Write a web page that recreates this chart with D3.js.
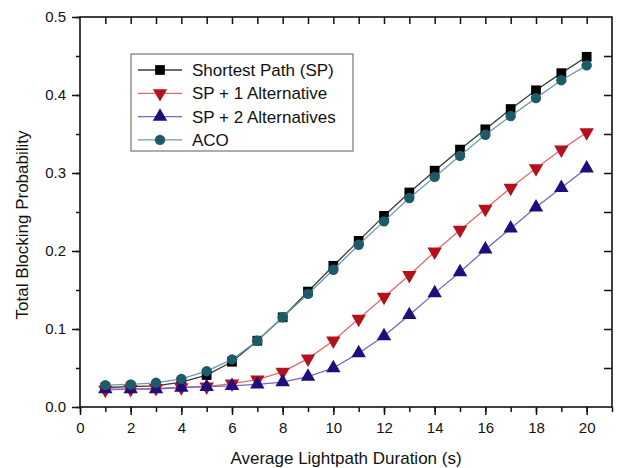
<!DOCTYPE html>
<html>
<head>
<meta charset="utf-8">
<script src="https://cdn.jsdelivr.net/npm/d3@7/dist/d3.min.js"></script>
<style>
html,body{margin:0;padding:0;background:#fff;}
svg{display:block;font-family:"Liberation Sans",Arial,sans-serif;}
</style>
</head>
<body>
<svg id="chart" width="621" height="468"></svg>
<script>
const durations = [1,2,3,4,5,6,7,8,9,10,11,12,13,14,15,16,17,18,19,20];
const seriesNames = ["Shortest Path (SP)","SP + 1 Alternative","SP + 2 Alternatives","ACO"];
const spValues  = [0.025,0.026,0.027,0.032,0.041,0.058,0.085,0.115,0.148,0.181,0.213,0.245,0.275,0.303,0.330,0.356,0.382,0.406,0.428,0.449];
const sp1Values = [0.022,0.023,0.024,0.025,0.026,0.030,0.035,0.045,0.062,0.085,0.113,0.141,0.169,0.199,0.227,0.254,0.281,0.306,0.330,0.352];
const sp2Values = [0.023,0.023,0.023,0.025,0.026,0.027,0.029,0.032,0.039,0.050,0.069,0.091,0.118,0.146,0.173,0.202,0.229,0.256,0.281,0.306];
const acoValues = [0.028,0.029,0.031,0.036,0.046,0.061,0.085,0.115,0.145,0.176,0.208,0.238,0.268,0.295,0.322,0.349,0.373,0.396,0.419,0.438];
const xTickLabels = [0,2,4,6,8,10,12,14,16,18,20];
const yTickLabels = [0.0,0.1,0.2,0.3,0.4,0.5];

const styles = [
  {line:"#3a3a3a", fill:"#000000", shape:d3.symbolSquare, size:95, rot:0},
  {line:"#e06a6a", fill:"#b3121c", shape:d3.symbolTriangle, size:90, rot:180},
  {line:"#7466c4", fill:"#1e0f7c", shape:d3.symbolTriangle, size:90, rot:0},
  {line:"#6a9ea6", fill:"#1e5b6a", shape:d3.symbolCircle, size:85, rot:0}
];
const allValues = [spValues, sp1Values, sp2Values, acoValues];

const svg = d3.select("#chart");
const L = 80, R = 612, T = 17, B = 407;
const x = d3.scaleLinear().domain([0,21]).range([L,R]);
const y = d3.scaleLinear().domain([0,0.5]).range([B,T]);

// Bottom axis: minor ticks every 1, major every 2
const gx = svg.append("g").attr("transform",`translate(0,${B})`);
gx.call(d3.axisBottom(x).tickValues(d3.range(0,22,1)).tickSize(5).tickFormat(""))
  .call(g=>g.select(".domain").remove());
gx.append("g").call(d3.axisBottom(x).tickValues(xTickLabels).tickSize(8).tickPadding(7).tickFormat(d3.format("d")))
  .call(g=>g.select(".domain").remove())
  .call(g=>g.selectAll("text").attr("font-size",15).attr("fill","#111").attr("font-family","Liberation Sans, Arial, sans-serif"));
// Left axis
const gy = svg.append("g").attr("transform",`translate(${L},0)`);
gy.call(d3.axisLeft(y).tickValues(d3.range(0,0.501,0.05)).tickSize(4).tickFormat(""))
  .call(g=>g.select(".domain").remove());
gy.append("g").call(d3.axisLeft(y).tickValues(yTickLabels).tickSize(8).tickPadding(6).tickFormat(d3.format(".1f")))
  .call(g=>g.select(".domain").remove())
  .call(g=>g.selectAll("text").attr("font-size",15).attr("fill","#111").attr("font-family","Liberation Sans, Arial, sans-serif"));
// Top axis ticks (inward)
svg.append("g").attr("transform",`translate(0,${T})`)
  .call(d3.axisBottom(x).tickValues(d3.range(1,21,1)).tickSize(7).tickFormat(""))
  .call(g=>g.select(".domain").remove());
// Right axis ticks (inward)
svg.append("g").attr("transform",`translate(${R},0)`)
  .call(d3.axisLeft(y).tickValues(d3.range(0.05,0.5,0.05)).tickSize(8).tickFormat(""))
  .call(g=>g.select(".domain").remove());
svg.selectAll(".tick line").attr("stroke","#111").attr("stroke-width",1.5);

// Frame
svg.append("rect").attr("x",L).attr("y",T).attr("width",R-L).attr("height",B-T)
  .attr("fill","none").attr("stroke","#111").attr("stroke-width",1.6);

// Series
const line = d3.line().x((d,i)=>x(durations[i])).y(d=>y(d));
allValues.forEach((vals,k)=>{
  const s = styles[k];
  const g = svg.append("g");
  g.append("path").datum(vals).attr("d",line).attr("fill","none").attr("stroke",s.line).attr("stroke-width",1.3);
  g.selectAll("path.m").data(vals).join("path").attr("class","m")
    .attr("d",d3.symbol().type(s.shape).size(s.size))
    .attr("transform",(d,i)=>`translate(${x(durations[i])},${y(d)}) rotate(${s.rot})`)
    .attr("fill",s.fill);
});

// Axis titles
svg.append("text").attr("x",346).attr("y",464).attr("text-anchor","middle")
  .attr("font-size",17).attr("fill","#111").text("Average Lightpath Duration (s)");
svg.append("text").attr("transform","translate(28,225) rotate(-90)").attr("text-anchor","middle")
  .attr("font-size",17).attr("fill","#111").text("Total Blocking Probability");

// Legend
const lg = svg.append("g");
lg.append("rect").attr("x",131).attr("y",54).attr("width",222).attr("height",97)
  .attr("fill","#fff").attr("stroke","#777").attr("stroke-width",1.2);
seriesNames.forEach((name,k)=>{
  const s = styles[k];
  const cy = 70 + k*23.3;
  lg.append("line").attr("x1",138).attr("x2",182).attr("y1",cy).attr("y2",cy).attr("stroke",s.line).attr("stroke-width",1.3);
  lg.append("path").attr("d",d3.symbol().type(s.shape).size(s.size))
    .attr("transform",`translate(160,${cy}) rotate(${s.rot})`).attr("fill",s.fill);
  lg.append("text").attr("x",192).attr("y",cy+6).attr("font-size",17).attr("fill","#111").text(name);
});
</script>
</body>
</html>
